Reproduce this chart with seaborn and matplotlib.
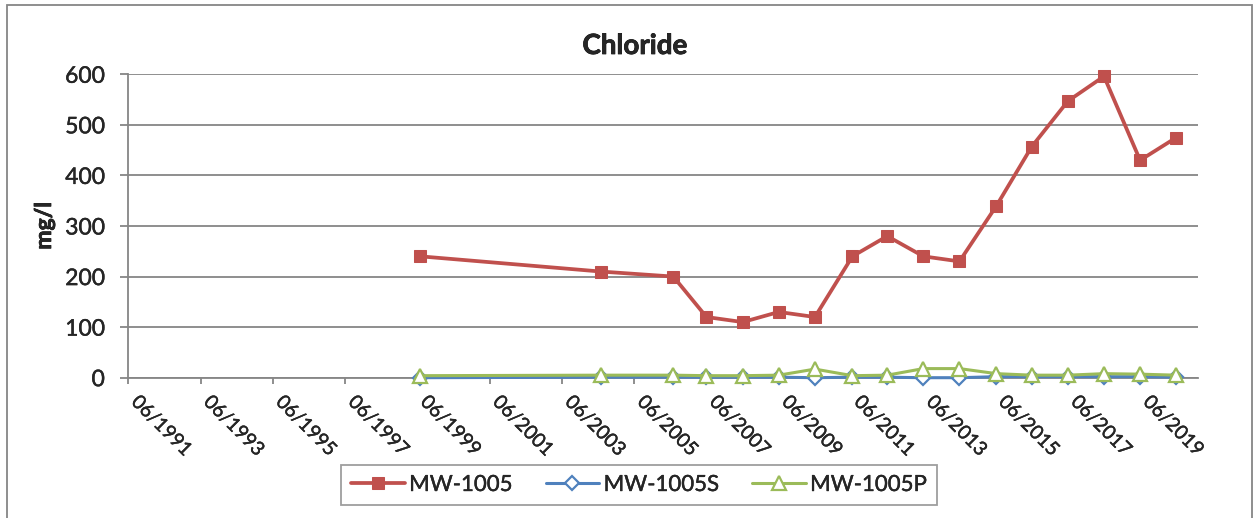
import matplotlib
matplotlib.use("Agg")
import matplotlib.pyplot as plt
import matplotlib.dates as mdates
import matplotlib.patheffects as pe
from matplotlib.patches import Rectangle
import pandas as pd
import seaborn as sns

# Sampling dates shared by the three wells
sample_dates = [
    "1999-07-01", "2004-06-25", "2006-07-01", "2007-06-01", "2008-06-01",
    "2009-06-01", "2010-06-01", "2011-06-15", "2012-06-01", "2013-06-01",
    "2014-06-01", "2015-06-10", "2016-06-01", "2017-06-01", "2018-06-01",
    "2019-06-01", "2020-06-01",
]

# Chloride concentrations (mg/l)
mw_1005 = [240, 210, 200, 120, 110, 130, 120, 240, 280, 240,
           230, 340, 457, 547, 596, 430, 475]
mw_1005s = [0, 1, 1, 1, 1, 1, 0, 1, 1, 0,
            0, 2, 2, 2, 2, 2, 1]
mw_1005p = [4, 5, 5, 4, 4, 5, 17, 4, 5, 18,
            18, 8, 5, 5, 8, 7, 5]

series_names = ["MW-1005", "MW-1005S", "MW-1005P"]
series_values = [mw_1005, mw_1005s, mw_1005p]

title_text = "Chloride"
y_label = "mg/l"
y_ticks = [0, 100, 200, 300, 400, 500, 600]
x_start, x_end = "1991-06-01", "2021-01-01"
tick_years = list(range(1991, 2020, 2))

frames = []
for name, vals in zip(series_names, series_values):
    frames.append(pd.DataFrame({"date": pd.to_datetime(sample_dates),
                                "value": vals, "well": name}))
df = pd.concat(frames, ignore_index=True)

sns.set_theme(style="white")
plt.rcParams["font.family"] = ["Lato", "DejaVu Sans"]

fig = plt.figure(figsize=(12.59, 5.18), dpi=100)
W, H = 1259, 518
ax = fig.add_axes([128.3 / W, 1 - 377.7 / H, (1197.5 - 128.3) / W, (377.7 - 74.3) / H])

styles = {
    "MW-1005": dict(color="#C0504D", marker="s", markersize=8.5,
                    markerfacecolor="#C0504D", markeredgecolor="#C0504D",
                    linewidth=2.7),
    "MW-1005S": dict(color="#4F81BD", marker="D", markersize=7.5,
                     markerfacecolor="white", markeredgecolor="#4F81BD",
                     markeredgewidth=1.6, linewidth=2.2),
    "MW-1005P": dict(color="#9BBB59", marker="^", markersize=9.5,
                     markerfacecolor="white", markeredgecolor="#9BBB59",
                     markeredgewidth=1.6, linewidth=2.2),
}

for z, name in enumerate(series_names):
    sub = df[df["well"] == name]
    sns.lineplot(data=sub, x="date", y="value", ax=ax, label=name,
                 zorder=3 + z, clip_on=False, **styles[name])

grid_color = "#868686"
ax.set_ylim(0, 600)
ax.set_yticks(y_ticks)
ax.set_xlim(pd.Timestamp(x_start), pd.Timestamp(x_end))
ax.set_xticks([pd.Timestamp(f"{y}-06-01") for y in tick_years])
ax.xaxis.set_major_formatter(mdates.DateFormatter("%m/%Y"))
ax.yaxis.grid(True, color=grid_color, linewidth=1.3)
ax.xaxis.grid(False)
ax.set_axisbelow(True)

for side in ["top", "right"]:
    ax.spines[side].set_visible(False)
for side in ["left", "bottom"]:
    ax.spines[side].set_color(grid_color)
    ax.spines[side].set_linewidth(1.3)

# slightly heavier strokes for text
heavy = [pe.withStroke(linewidth=0.25, foreground="black")]
heavy_bold = [pe.withStroke(linewidth=0.5, foreground="black")]

ax.tick_params(axis="y", which="major", direction="out", length=6,
               width=1.3, color=grid_color, labelsize=16.5, pad=11, left=True)
ax.tick_params(axis="x", which="major", direction="out", length=4,
               width=1.3, color=grid_color, labelsize=14, pad=7, bottom=True)
for lbl in ax.get_yticklabels():
    lbl.set_path_effects(heavy)
for lbl in ax.get_xticklabels():
    lbl.set_rotation(-45)
    lbl.set_ha("left")
    lbl.set_va("top")
    lbl.set_path_effects(heavy)

ax.set_xlabel("")
ax.set_ylabel(y_label, fontsize=16.5, fontweight="bold", ha="center", va="center",
              path_effects=heavy_bold)
ax.yaxis.set_label_coords((44.5 - 128.3) / (1197.5 - 128.3), 0.5)

fig.text(635 / W, 1 - 46 / H, title_text, ha="center", va="center",
         fontsize=20, fontweight="bold", path_effects=heavy_bold)

ax.get_legend().remove()
handles, labels = ax.get_legend_handles_labels()
leg = fig.legend(handles, labels, loc="center", ncol=3,
                 bbox_to_anchor=(639 / W, 1 - 485 / H),
                 frameon=True, fancybox=False, fontsize=16,
                 handlelength=2.4, handletextpad=0.2, columnspacing=1.5,
                 borderpad=0.45)
for txt in leg.get_texts():
    txt.set_path_effects(heavy)
leg.get_frame().set_edgecolor(grid_color)
leg.get_frame().set_linewidth(1.3)

# Chart-area border
fig.patches.append(Rectangle((7 / W, -0.01), (1252 - 7) / W, 1 - 5 / H + 0.01,
                             transform=fig.transFigure, fill=False,
                             edgecolor=grid_color, linewidth=1.3))

fig.savefig("out.png", dpi=100, facecolor="white")
